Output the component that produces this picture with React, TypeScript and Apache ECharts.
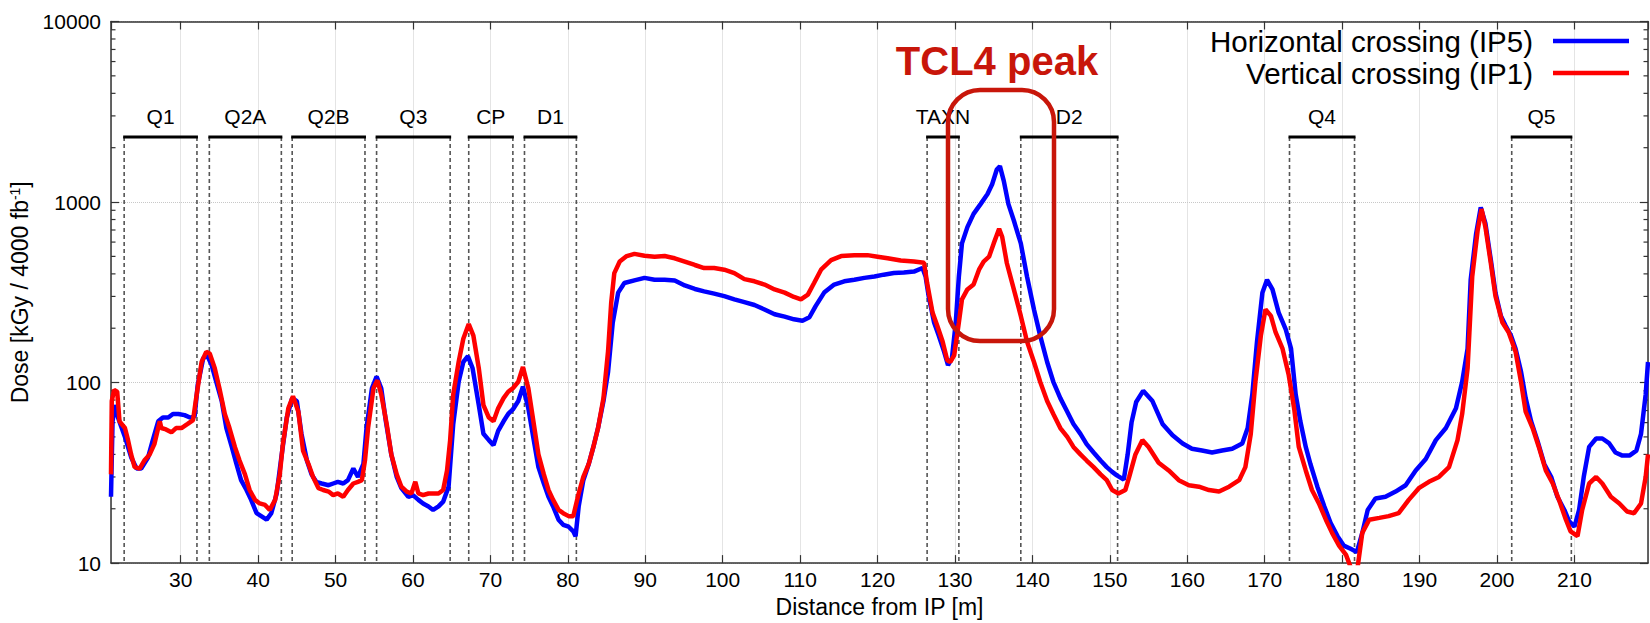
import React, { useEffect, useRef } from 'react';
import * as echarts from 'echarts';

const FONT = '"Liberation Sans", Arial, Helvetica, sans-serif';
const DARK_RED = '#c8160a';

const X_MIN = 21;
const X_MAX = 219.5;
const Y_MIN = 10;
const Y_MAX = 10000;

const SERIES_NAMES = ['Horizontal crossing (IP5)', 'Vertical crossing (IP1)'];
const X_TITLE = 'Distance from IP [m]';
const Y_TITLE = 'Dose [kGy / 4000 fb{sup|-1}]';
const ANNOTATION = 'TCL4 peak';

// [distance (m), dose (kGy / 4000 fb-1)]
const BLUE: [number, number][] = [
  [21.0, 23.3], [21.2, 61], [21.5, 75], [21.9, 64], [22.8, 50], [23.6, 38.6], [24.3, 33.4], [24.9, 33.4],
  [25.8, 38.6], [26.4, 48], [27.1, 61], [27.7, 64], [28.4, 64], [29.0, 67], [29.7, 67], [30.5, 66],
  [31.2, 64], [31.8, 65], [32.2, 97], [32.9, 136], [33.4, 142], [34.0, 125], [34.6, 101], [35.3, 79],
  [35.9, 56], [36.6, 44], [37.2, 35.4], [37.8, 28.8], [38.5, 25.4], [39.1, 22.4], [39.8, 18.9], [40.4, 18.2],
  [41.1, 17.4], [41.7, 18.9], [42.4, 24.3], [43.0, 38.6], [43.7, 64], [44.4, 82], [45.0, 79], [45.6, 52],
  [46.3, 37], [46.9, 31], [47.5, 28.2], [48.2, 27.6], [49.1, 27], [49.7, 27.6], [50.3, 28.2], [51.0, 27.6],
  [51.6, 28.8], [52.3, 33.4], [52.9, 30], [53.6, 35.4], [54.0, 56], [54.7, 93], [55.3, 108], [55.9, 93],
  [56.5, 61], [57.2, 40], [57.9, 30], [58.5, 26], [59.4, 23.3], [60.0, 23.8], [60.7, 22.4], [61.3, 21.4],
  [62.0, 20.6], [62.6, 19.7], [63.3, 20.6], [63.9, 21.9], [64.6, 26.5], [65.2, 59], [65.9, 101], [66.5, 130],
  [67.1, 140], [67.7, 120], [68.5, 75], [69.1, 52], [69.8, 48], [70.4, 45], [71.0, 54], [71.7, 61],
  [72.3, 67], [72.9, 71], [73.6, 79], [74.2, 95], [74.9, 72], [75.6, 48], [76.2, 34], [76.9, 27.6],
  [77.5, 23.3], [78.1, 20.6], [78.8, 17.4], [79.4, 16.3], [80.1, 15.9], [80.7, 15.0], [81.0, 14.1], [81.4, 20.6],
  [82.0, 28.8], [82.7, 35.4], [83.3, 44], [83.9, 56], [84.6, 79], [85.2, 115], [85.8, 215], [86.5, 315],
  [87.3, 356], [88.6, 368], [89.9, 380], [91.2, 371], [92.5, 371], [93.8, 368], [95.1, 345], [96.4, 330],
  [97.6, 320], [98.9, 311], [100.2, 301], [101.5, 289], [102.8, 279], [104.1, 269], [105.4, 254], [106.7, 239],
  [108.0, 232], [109.2, 224], [110.3, 220], [111.2, 230], [112.0, 265], [113.1, 315], [114.4, 349], [115.7, 364],
  [117.0, 371], [118.3, 380], [119.6, 387], [120.8, 396], [122.1, 404], [123.4, 407], [124.7, 412], [125.8, 431],
  [126.2, 387], [126.6, 301], [127.3, 215], [127.9, 182], [128.6, 148], [129.1, 125], [129.6, 136], [130.1, 215],
  [130.5, 387], [130.9, 590], [131.6, 726], [132.4, 860], [133.3, 974], [134.2, 1108], [134.8, 1255], [135.4, 1514],
  [135.8, 1580], [136.3, 1310], [136.9, 974], [137.6, 790], [138.5, 590], [139.3, 387], [140.2, 254], [141.0, 182],
  [141.9, 130], [142.7, 101], [143.6, 82], [144.5, 69], [145.3, 59], [146.2, 52], [147.0, 45.6], [147.9, 41],
  [148.8, 37], [149.6, 34], [150.3, 32], [150.9, 30.6], [151.8, 29], [152.3, 40], [152.8, 60], [153.4, 78],
  [154.3, 90], [155.5, 79], [156.8, 59], [158.1, 51], [159.4, 46], [160.6, 43], [161.9, 42], [163.2, 41],
  [164.5, 42], [165.8, 43], [167.1, 46], [167.8, 56], [168.4, 86], [169.0, 168], [169.7, 314], [170.3, 371],
  [171.0, 328], [171.8, 244], [172.7, 198], [173.4, 154], [174.0, 86], [174.6, 61], [175.3, 44], [175.9, 35.4],
  [176.8, 26.5], [177.7, 20.6], [178.5, 16.7], [179.4, 14.1], [180.2, 12.5], [181.1, 12.0], [181.9, 11.5], [182.6, 14.7],
  [183.3, 19.7], [184.3, 22.8], [185.6, 23.3], [186.9, 24.9], [188.2, 27], [189.5, 32.6], [190.8, 37.7], [192.1, 48],
  [193.4, 56], [194.7, 72], [195.5, 101], [196.2, 154], [196.6, 371], [197.3, 667], [197.9, 935], [198.5, 762],
  [199.2, 478], [199.8, 314], [200.5, 234], [201.1, 207], [201.8, 182], [202.4, 154], [203.1, 115], [203.7, 82],
  [204.4, 61], [205.2, 48], [206.1, 35.4], [207.0, 30], [207.8, 23.3], [208.7, 19.7], [209.3, 17.1], [210.0, 15.9],
  [210.6, 19.7], [211.2, 30], [211.9, 44], [212.8, 49], [213.6, 49], [214.5, 46], [215.3, 41], [216.2, 39.4],
  [217.1, 39.4], [218.0, 42], [218.6, 52], [219.2, 86], [219.5, 130],
];

const RED: [number, number][] = [
  [21.0, 31], [21.1, 79], [21.4, 91], [21.8, 89], [22.1, 61], [22.8, 56], [23.2, 48], [23.6, 40],
  [24.05, 34], [24.7, 33.4], [25.3, 37], [26.0, 40], [26.6, 45.6], [27.3, 61], [27.5, 56], [28.1, 55],
  [28.8, 53], [29.4, 56], [30.1, 56], [30.9, 59], [31.6, 62], [32.0, 82], [32.7, 130], [33.3, 148],
  [33.75, 145], [34.4, 120], [35.0, 93], [35.7, 67], [36.3, 56], [37.0, 44], [37.6, 37], [38.3, 31],
  [38.9, 25.4], [39.6, 22.4], [40.2, 21.4], [40.9, 21], [41.5, 19.7], [42.2, 22.4], [42.8, 31], [43.2, 45.6],
  [43.9, 72], [44.5, 84], [45.2, 69], [45.8, 42], [46.5, 35.4], [47.1, 30], [47.8, 26], [48.4, 25.4],
  [49.1, 24.9], [49.7, 23.8], [50.3, 24.3], [51.0, 23.3], [51.6, 25.4], [52.3, 27.6], [52.9, 28.2], [53.4, 28.8],
  [53.8, 37], [54.2, 56], [54.9, 93], [55.4, 103], [55.9, 86], [56.6, 59], [57.2, 40], [57.9, 31],
  [58.5, 26.5], [59.2, 24.9], [59.8, 24.3], [60.3, 28.2], [60.7, 24.3], [61.3, 23.8], [62.0, 24.3], [62.6, 24.3],
  [63.3, 24.3], [63.9, 25.4], [64.4, 32.6], [64.8, 48], [65.2, 86], [65.9, 130], [66.5, 175], [67.2, 211],
  [67.8, 182], [68.5, 120], [69.1, 75], [69.8, 64], [70.4, 61], [71.0, 72], [71.7, 82], [72.3, 89],
  [72.9, 93], [73.6, 101], [74.2, 122], [74.9, 93], [75.6, 59], [76.2, 40], [76.9, 31], [77.5, 25.4],
  [78.1, 22.4], [78.8, 19.7], [79.4, 18.9], [80.1, 18.2], [80.7, 18.2], [81.4, 24.3], [82.0, 30], [82.7, 35.4],
  [83.3, 44], [83.9, 56], [84.6, 82], [85.2, 150], [85.6, 277], [86.0, 404], [86.7, 468], [87.6, 502],
  [88.6, 516], [89.9, 504], [91.2, 498], [92.5, 502], [93.8, 488], [95.1, 468], [96.4, 448], [97.6, 431],
  [98.9, 431], [100.2, 422], [101.5, 404], [102.8, 374], [104.1, 364], [105.4, 349], [106.7, 328], [108.0, 315],
  [109.2, 298], [110.1, 289], [111.0, 307], [111.8, 356], [112.7, 422], [114.0, 477], [115.3, 502], [117.0, 508],
  [118.7, 508], [120.0, 498], [121.3, 488], [123.0, 474], [124.7, 468], [126.0, 461], [126.4, 356], [127.1, 244],
  [127.7, 207], [128.4, 169], [129.0, 133], [129.4, 130], [129.9, 142], [130.5, 215], [130.9, 289], [131.6, 328],
  [132.4, 349], [133.1, 422], [133.7, 468], [134.4, 498], [135.0, 590], [135.7, 711], [136.1, 640], [136.7, 458],
  [137.6, 328], [138.5, 234], [139.3, 169], [140.2, 130], [141.0, 101], [141.9, 79], [142.7, 67], [143.6, 56],
  [144.5, 50], [145.3, 44], [146.2, 40], [147.0, 37], [147.9, 34], [148.8, 31], [149.6, 28.8], [150.3, 25.4],
  [151.1, 24.3], [152.0, 25.4], [152.5, 30], [153.3, 40], [154.2, 48], [155.0, 44], [156.3, 36], [157.6, 32.6],
  [158.9, 28.8], [160.2, 27], [161.5, 26.5], [162.8, 25.4], [164.1, 24.9], [165.4, 26.5], [166.7, 28.8], [167.5, 34],
  [168.2, 52], [168.8, 101], [169.5, 182], [170.1, 254], [170.8, 234], [171.4, 190], [172.3, 154], [173.1, 110],
  [173.8, 72], [174.4, 44], [175.3, 32.6], [176.1, 25.4], [177.0, 21.4], [177.9, 17.4], [178.7, 14.7], [179.6, 12.5],
  [180.5, 11.1], [181.1, 9.5], [181.7, 9], [182.0, 9.5], [182.6, 14.7], [183.5, 17.4], [184.8, 17.8], [186.0, 18.2],
  [187.3, 18.9], [188.6, 22.4], [189.9, 26], [191.2, 28.2], [192.5, 30], [193.8, 34], [194.9, 48], [195.5, 67],
  [196.2, 120], [196.8, 387], [197.5, 697], [198.0, 914], [198.5, 728], [199.2, 458], [199.8, 301], [200.7, 215],
  [201.5, 190], [202.4, 148], [203.1, 101], [203.7, 69], [204.6, 56], [205.4, 44], [206.3, 32.6], [207.2, 27.6],
  [208.0, 22.4], [208.9, 17.4], [209.5, 15], [210.4, 14.1], [211.0, 19.7], [211.9, 27.6], [212.8, 30], [213.6, 27.6],
  [214.7, 23.3], [215.8, 21.4], [216.8, 19.3], [217.7, 18.9], [218.6, 21.4], [219.2, 30], [219.5, 40],
];

const MAGNET_NAMES = ['Q1', 'Q2A', 'Q2B', 'Q3', 'CP', 'D1', 'TAXN', 'D2', 'Q4', 'Q5'];
const MAGNET_START = [22.7, 33.7, 44.4, 55.3, 67.2, 74.4, 126.4, 138.5, 173.2, 201.9];
const MAGNET_END = [32.1, 43.0, 53.8, 64.8, 72.9, 81.1, 130.5, 151.0, 181.6, 209.6];
const MAGNET_BAR_DOSE = 2290;

const MINOR_TICKS = [
  20, 30, 40, 50, 60, 70, 80, 90,
  200, 300, 400, 500, 600, 700, 800, 900,
  2000, 3000, 4000, 5000, 6000, 7000, 8000, 9000,
];

const AXIS_COLOR = '#333';

function buildOption(): any {
  const magnetData = MAGNET_START.map((s, i) => [s, MAGNET_END[i], i]);
  const minorData = MINOR_TICKS.map((v) => [X_MIN, v]);
  return {
    animation: false,
    backgroundColor: '#ffffff',
    textStyle: { fontFamily: FONT },
    grid: { left: 111, right: 2, top: 21.5, bottom: 53, containLabel: false },
    legend: {
      data: SERIES_NAMES.map((n) => ({ name: n, icon: 'rect' })),
      orient: 'vertical',
      align: 'right',
      right: 21,
      top: 25,
      padding: 0,
      itemGap: 0,
      itemWidth: 76,
      itemHeight: 4.5,
      selectedMode: false,
      textStyle: { fontSize: 29.5, lineHeight: 32, color: '#000', fontFamily: FONT, padding: [0, 15, 0, 0] },
    },
    xAxis: [
      {
        type: 'value', min: X_MIN, max: X_MAX, splitNumber: 20, position: 'bottom',
        name: X_TITLE, nameLocation: 'middle', nameGap: 30,
        nameTextStyle: { fontSize: 23, color: '#000', fontFamily: FONT },
        axisLine: { lineStyle: { color: AXIS_COLOR, width: 1.5 } },
        axisTick: { inside: true, length: 8, lineStyle: { color: AXIS_COLOR, width: 1.2 } },
        axisLabel: { fontSize: 21, color: '#000', margin: 6, showMinLabel: false, showMaxLabel: false, fontFamily: FONT },
        splitLine: { show: true, lineStyle: { color: '#c8c8c8', type: 'dotted', width: 1 } },
      },
      {
        type: 'value', min: X_MIN, max: X_MAX, splitNumber: 20, position: 'top',
        axisLine: { lineStyle: { color: AXIS_COLOR, width: 1.5 } },
        axisTick: { inside: true, length: 8, lineStyle: { color: AXIS_COLOR, width: 1.2 } },
        axisLabel: { show: false },
        splitLine: { show: false },
      },
    ],
    yAxis: [
      {
        type: 'log', logBase: 10, min: Y_MIN, max: Y_MAX, position: 'left',
        name: Y_TITLE, nameLocation: 'middle', nameGap: 68,
        nameTextStyle: {
          fontSize: 23, color: '#000', fontFamily: FONT,
          rich: { sup: { fontSize: 14, verticalAlign: 'top', color: '#000', fontFamily: FONT, padding: [0, 0, 10, 0] } },
        },
        axisLine: { lineStyle: { color: AXIS_COLOR, width: 1.5 } },
        axisTick: { inside: true, length: 8, lineStyle: { color: AXIS_COLOR, width: 1.2 } },
        axisLabel: { fontSize: 21, color: '#000', margin: 10, fontFamily: FONT, formatter: (v: number) => String(Math.round(v)) },
        splitLine: { show: true, lineStyle: { color: '#c8c8c8', type: 'dotted', width: 1 } },
      },
      {
        type: 'log', logBase: 10, min: Y_MIN, max: Y_MAX, position: 'right',
        axisLine: { lineStyle: { color: AXIS_COLOR, width: 1.5 } },
        axisTick: { inside: true, length: 8, lineStyle: { color: AXIS_COLOR, width: 1.2 } },
        axisLabel: { show: false },
        splitLine: { show: false },
      },
    ],
    series: [
      {
        type: 'custom', name: 'magnets', silent: true, z: 1,
        data: magnetData,
        renderItem: (_params: any, api: any) => {
          const idx = api.value(2);
          const s = api.coord([api.value(0), MAGNET_BAR_DOSE]);
          const e = api.coord([api.value(1), MAGNET_BAR_DOSE]);
          const bottom = api.coord([api.value(0), Y_MIN])[1];
          const dash = { stroke: '#555', lineWidth: 1.6, lineDash: [4, 3] };
          return {
            type: 'group',
            children: [
              { type: 'line', shape: { x1: s[0], y1: s[1], x2: s[0], y2: bottom }, style: dash },
              { type: 'line', shape: { x1: e[0], y1: s[1], x2: e[0], y2: bottom }, style: dash },
              { type: 'line', shape: { x1: s[0] - 1, y1: s[1], x2: e[0] + 1, y2: s[1] }, style: { stroke: '#000', lineWidth: 3 } },
              {
                type: 'text', x: (s[0] + e[0]) / 2, y: s[1] - 10,
                style: { text: MAGNET_NAMES[idx], align: 'center', verticalAlign: 'bottom', fontSize: 21, fontFamily: FONT, fill: '#000' },
              },
            ],
          };
        },
      },
      {
        type: 'custom', name: 'minorTicks', silent: true, z: 3,
        data: minorData,
        renderItem: (_params: any, api: any) => {
          const p = api.coord([X_MIN, api.value(1)]);
          const q = api.coord([X_MAX, api.value(1)]);
          const st = { stroke: AXIS_COLOR, lineWidth: 1.2 };
          return {
            type: 'group',
            children: [
              { type: 'line', shape: { x1: p[0], y1: p[1], x2: p[0] + 4.5, y2: p[1] }, style: st },
              { type: 'line', shape: { x1: q[0], y1: q[1], x2: q[0] - 4.5, y2: q[1] }, style: st },
            ],
          };
        },
      },
      {
        type: 'line', name: SERIES_NAMES[0], data: BLUE, symbol: 'none', showSymbol: false, z: 4,
        lineStyle: { color: '#0000ff', width: 4.5 }, itemStyle: { color: '#0000ff' },
      },
      {
        type: 'line', name: SERIES_NAMES[1], data: RED, symbol: 'none', showSymbol: false, z: 5,
        lineStyle: { color: '#ff0000', width: 4.5 }, itemStyle: { color: '#ff0000' },
      },
    ],
    graphic: [
      {
        type: 'rect', z: 100, silent: true,
        shape: { x: 948, y: 90, width: 106, height: 251, r: 32 },
        style: { fill: 'none', stroke: DARK_RED, lineWidth: 4.5 },
      },
      {
        type: 'text', z: 100, silent: true, x: 997, y: 61,
        style: { text: ANNOTATION, align: 'center', verticalAlign: 'middle', fontSize: 40, fontWeight: 'bold', fontFamily: FONT, fill: DARK_RED },
      },
    ],
  };
}

export default function App() {
  const ref = useRef<HTMLDivElement>(null);
  useEffect(() => {
    if (!ref.current) return;
    const chart = echarts.init(ref.current, null, { renderer: 'svg' });
    chart.setOption(buildOption());
    return () => chart.dispose();
  }, []);
  return (
    <div
      ref={ref}
      style={{ position: 'fixed', left: 0, top: 0, width: 1650, height: 623, background: '#fff' }}
    />
  );
}
